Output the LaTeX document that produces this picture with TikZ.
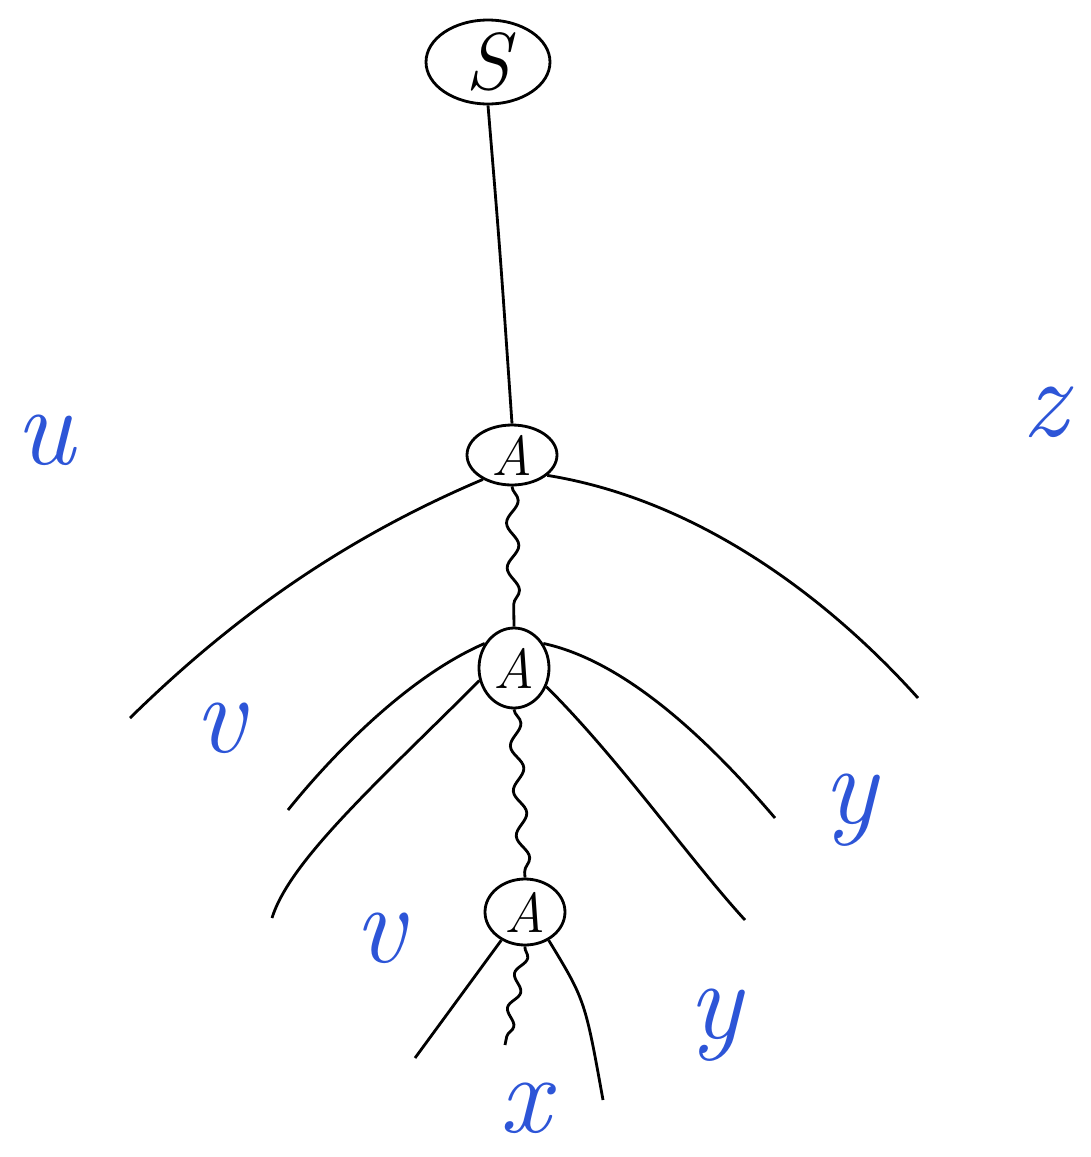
\documentclass[tikz,border=0pt]{standalone}
\usetikzlibrary{shapes.geometric,decorations.pathmorphing}
\definecolor{inkblue}{RGB}{45,85,215}
\begin{document}
\begin{tikzpicture}[x=0.02cm,y=-0.02cm,
  tnode/.style={draw,ellipse,line width=1.6pt,inner sep=-12pt},
  branch/.style={line width=1.6pt},
  wavy/.style={line width=1.6pt,decorate,decoration={snake,amplitude=1.2mm,segment length=9mm}},
  lab/.style={text=inkblue,inner sep=1pt,font=\fontsize{64}{64}\selectfont\itshape}]
\useasboundingbox (0,0) rectangle (1091,1157);
\node[tnode,minimum width=2.48cm,minimum height=1.68cm,font=\fontsize{46}{46}\selectfont\itshape] (S) at (488,62) {S};
\node[tnode,minimum width=1.8cm,minimum height=1.2cm,font=\fontsize{32}{32}\selectfont\itshape] (A1) at (512,455) {A};
\node[tnode,minimum width=1.4cm,minimum height=1.6cm,font=\fontsize{32}{32}\selectfont\itshape] (A2) at (514,668) {A};
\node[tnode,minimum width=1.6cm,minimum height=1.32cm,font=\fontsize{32}{32}\selectfont\itshape] (A3) at (525,912) {A};
\coordinate (l1) at (130,718);
\coordinate (r1) at (918,698);
\coordinate (l2a) at (288,810);
\coordinate (l2b) at (272,918);
\coordinate (r2a) at (775,818);
\coordinate (r2b) at (745,920);
\coordinate (l3) at (415,1058);
\coordinate (r3) at (603,1100);
\coordinate (x3) at (505,1045);
\draw[branch] (S.south) .. controls (500,250) .. (A1.north);
\draw[branch] (A1.220) .. controls (340,540) and (230,620) .. (l1);
\draw[branch] (A1.330) .. controls (700,500) and (830,600) .. (r1);
\draw[wavy] (A1.south) -- (A2.north);
\draw[branch] (A2.140) .. controls (400,680) and (320,770) .. (l2a);
\draw[branch] (A2.200) .. controls (380,780) and (290,860) .. (l2b);
\draw[branch] (A2.40) .. controls (620,660) and (700,730) .. (r2a);
\draw[branch] (A2.330) .. controls (620,760) and (690,860) .. (r2b);
\draw[wavy] (A2.south) -- (A3.north);
\draw[branch] (A3.230) -- (l3);
\draw[branch] (A3.310) .. controls (585,1000) .. (r3);
\draw[wavy,decoration={snake,amplitude=1mm,segment length=7mm}] (A3.south) -- (x3);
\node[lab] (u) at (45,440) {u};
\node[lab] (z) at (1045,412) {z};
\node[lab] (v1) at (220,728) {v};
\node[lab] (v2) at (380,938) {v};
\node[lab] (y1) at (850,810) {y};
\node[lab] (y2) at (715,1025) {y};
\node[lab] (x) at (525,1108) {x};
\end{tikzpicture}
\end{document}
